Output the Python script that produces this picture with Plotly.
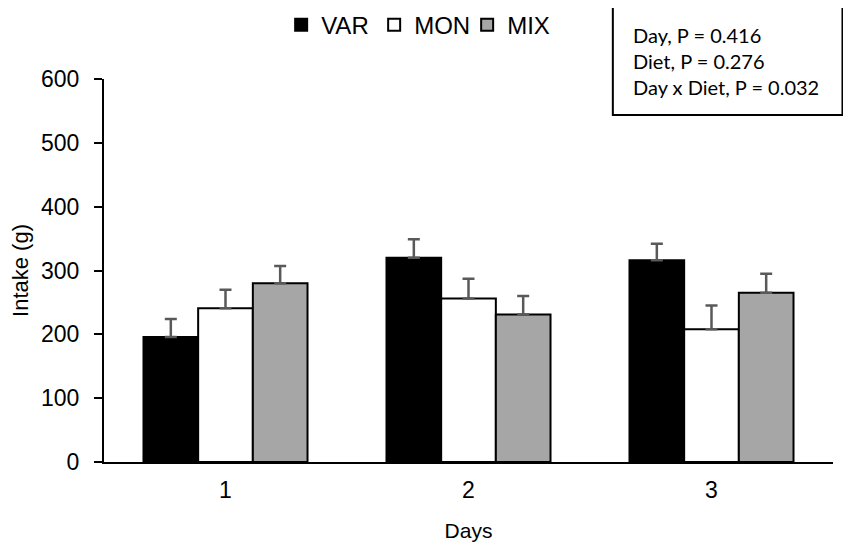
import plotly.graph_objects as go

# Intake per day for each diet
days = ["1", "2", "3"]
var_intake = [196, 320, 316]
var_err = [28, 29, 26]
mon_intake = [241, 256, 208]
mon_err = [29, 31, 37]
mix_intake = [280, 231, 265]
mix_err = [27, 29, 30]

stats_lines = ["Day, P = 0.416", "Diet, P = 0.276", "Day x Diet, P = 0.032"]


def err(vals):
    # only the upper half of the error bar is shown
    return dict(type="data", array=vals, arrayminus=[0] * len(vals), symmetric=False,
                visible=True, color="#595959", thickness=2.5, width=6)


fig = go.Figure()
fig.add_trace(go.Bar(x=days, y=var_intake, name="VAR", marker_color="black",
                     marker_line=dict(color="black", width=2), error_y=err(var_err)))
fig.add_trace(go.Bar(x=days, y=mon_intake, name="MON", marker_color="white",
                     marker_line=dict(color="black", width=2), error_y=err(mon_err)))
fig.add_trace(go.Bar(x=days, y=mix_intake, name="MIX", marker_color="#a6a6a6",
                     marker_line=dict(color="black", width=2), error_y=err(mix_err)))

# stats box
fig.add_shape(type="rect", xref="paper", yref="paper",
              x0=0.698, x1=1.013, y0=0.906, y1=1.188,
              line=dict(color="black", width=2), fillcolor="white")
fig.add_annotation(
    xref="paper", yref="paper", x=0.723, y=1.047,
    xanchor="left", yanchor="middle",
    text="<br>".join(stats_lines), align="left", showarrow=False,
    font=dict(family="Lato", size=20, color="black"),
)

fig.update_layout(
    width=851, height=551,
    margin=dict(l=96, r=26, t=71, b=97),
    paper_bgcolor="white", plot_bgcolor="white",
    barmode="group", bargap=0.325, bargroupgap=0,
    font=dict(family="Arial, Liberation Sans", color="black"),
    showlegend=True,
    legend=dict(orientation="h", x=0.243, y=0.969, yref="container",
                xanchor="left", yanchor="middle",
                font=dict(size=24), itemwidth=30, entrywidth=48,
                traceorder="normal"),
)
fig.update_xaxes(
    showline=True, linecolor="black", linewidth=2, ticks="", automargin=False,
    ticklabelstandoff=6,
    tickfont=dict(size=23), title=dict(text="Days", font=dict(size=21), standoff=22),
)
fig.update_yaxes(
    range=[0, 600], dtick=100, showgrid=False, zeroline=False, automargin=False,
    showline=True, linecolor="black", linewidth=2,
    ticks="outside", ticklen=8, tickwidth=2, tickcolor="black",
    ticklabelstandoff=10,
    tickfont=dict(size=23), title=dict(text="Intake (g)", font=dict(size=22), standoff=10),
)

fig.write_html("out.html")
